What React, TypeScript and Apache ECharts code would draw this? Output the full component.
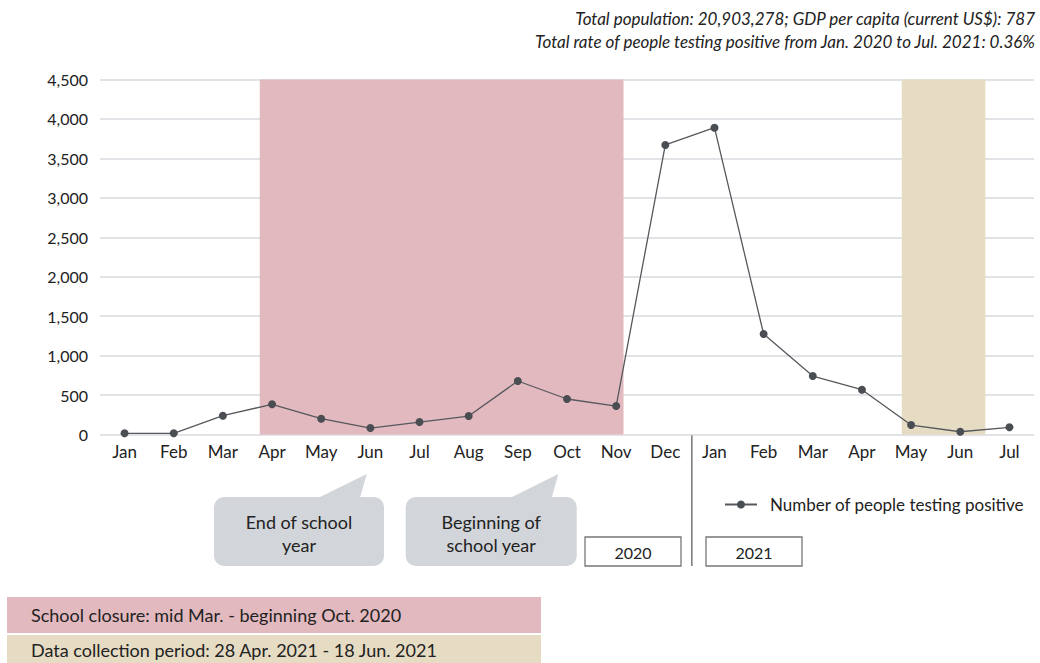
import React, { useEffect, useRef } from "react";
import * as echarts from "echarts";

const months = ["Jan","Feb","Mar","Apr","May","Jun","Jul","Aug","Sep","Oct","Nov","Dec","Jan","Feb","Mar","Apr","May","Jun","Jul"];
const positives = [15, 15, 238, 383, 200, 82, 158, 234, 678, 450, 361, 3670, 3889, 1274, 741, 568, 120, 35, 91];
const yTicks = [0, 500, 1000, 1500, 2000, 2500, 3000, 3500, 4000, 4500];
const closureSpan = [2.75, 10.15];
const collectionSpan = [15.81, 17.51];
const yearSplit = 11.54;
const seriesName = "Number of people testing positive";
const headerLines = [
  "Total population: 20,903,278; GDP per capita (current US$): 787",
  "Total rate of people testing positive from Jan. 2020 to Jul. 2021: 0.36%",
];

const FONT = "Lato, 'Noto Sans', sans-serif";
const PINK = "#e2b9be";
const BEIGE = "#e6dcc4";
const GRAYBOX = "#d2d5d9";
const TEXT = "#222222";

export default function App() {
  const ref = useRef<HTMLDivElement>(null);
  useEffect(() => {
    if (!ref.current) return;
    const chart = echarts.init(ref.current, undefined, { renderer: "svg" });
    const yMax = yTicks[yTicks.length - 1];
    chart.setOption({
      animation: false,
      textStyle: { fontFamily: FONT },
      grid: { left: 100, right: 6, top: 79.5, bottom: 228.5, containLabel: false },
      legend: {
        data: [seriesName],
        left: 719,
        top: 491,
        itemWidth: 32,
        itemHeight: 10,
        textStyle: { fontSize: 17, color: TEXT, fontFamily: FONT, padding: [0, 0, 0, 8] },
      },
      xAxis: [
        {
          type: "category",
          data: months,
          boundaryGap: true,
          axisLine: { show: false },
          axisTick: { show: false },
          axisLabel: { fontSize: 17, color: TEXT, fontFamily: FONT, margin: 8, interval: 0 },
        },
        {
          type: "value",
          min: -0.5,
          max: months.length - 0.5,
          show: false,
        },
      ],
      yAxis: {
        type: "value",
        min: 0,
        max: yMax,
        interval: 500,
        axisLine: { show: false },
        axisTick: { show: false },
        axisLabel: {
          fontSize: 16,
          color: TEXT,
          fontFamily: FONT,
          margin: 12,
          formatter: (v: number) => v.toLocaleString("en-US"),
        },
        splitLine: { lineStyle: { color: "#d8dade", width: 1.5 } },
      },
      series: [
        {
          name: "areas",
          type: "line",
          xAxisIndex: 1,
          yAxisIndex: 0,
          data: [],
          z: -1,
          silent: true,
          markArea: {
            silent: true,
            data: [
              [
                { xAxis: closureSpan[0], yAxis: yMax, itemStyle: { color: PINK, opacity: 1 } },
                { xAxis: closureSpan[1], yAxis: 0 },
              ],
              [
                { xAxis: collectionSpan[0], yAxis: yMax, itemStyle: { color: BEIGE, opacity: 1 } },
                { xAxis: collectionSpan[1], yAxis: 0 },
              ],
            ],
          },
        },
        {
          name: seriesName,
          type: "line",
          data: positives,
          symbol: "circle",
          symbolSize: 8,
          lineStyle: { color: "#55585d", width: 1.3 },
          itemStyle: { color: "#4a4d52" },
          z: 3,
        },
      ],
    });

    const sepX = chart.convertToPixel({ xAxisIndex: 1 }, yearSplit) as number;
    const baseY = chart.convertToPixel({ yAxisIndex: 0 }, 0) as number;

    const callout = (x: number, w: number, tip: number[], base: number[], lines: string[]) => ({
      type: "group",
      children: [
        {
          type: "polygon",
          shape: { points: [[base[0], 498], [tip[0], tip[1]], [base[1], 498]] },
          style: { fill: GRAYBOX },
        },
        {
          type: "rect",
          shape: { x, y: 497, width: w, height: 69, r: 10 },
          style: { fill: GRAYBOX },
        },
        {
          type: "text",
          x: x + w / 2,
          y: 533,
          style: {
            text: lines.join("\n"),
            fontSize: 18,
            lineHeight: 23,
            fill: TEXT,
            fontFamily: FONT,
            align: "center",
            verticalAlign: "middle",
          },
        },
      ],
    });

    const yearBox = (x: number, label: string) => ({
      type: "group",
      children: [
        {
          type: "rect",
          shape: { x, y: 537, width: 96, height: 29 },
          style: { fill: "#ffffff", stroke: "#777777", lineWidth: 1.3 },
        },
        {
          type: "text",
          x: x + 48,
          y: 552,
          style: { text: label, fontSize: 16, fill: TEXT, fontFamily: FONT, align: "center", verticalAlign: "middle" },
        },
      ],
    });

    const headerTexts = headerLines.map((line, i) => ({
      type: "text",
      x: 1035,
      y: 18 + i * 23,
      style: {
        text: line,
        fontSize: 17,
        fontStyle: "italic",
        fill: TEXT,
        fontFamily: FONT,
        align: "right",
        verticalAlign: "middle",
      },
    }));

    chart.setOption({
      graphic: [
        ...headerTexts,
        {
          type: "line",
          shape: { x1: sepX, y1: baseY + 1, x2: sepX, y2: 566 },
          style: { stroke: "#555555", lineWidth: 1.2 },
        },
        callout(214, 170, [366.7, 474], [318, 360], ["End of school", "year"]),
        callout(405.7, 171, [558.3, 474], [510, 551.7], ["Beginning of", "school year"]),
        yearBox(585, "2020"),
        yearBox(706, "2021"),
        {
          type: "rect",
          shape: { x: 7, y: 597, width: 534, height: 36 },
          style: { fill: PINK },
        },
        {
          type: "text",
          x: 31,
          y: 615,
          style: { text: "School closure: mid Mar. - beginning Oct. 2020", fontSize: 18, fill: TEXT, fontFamily: FONT, verticalAlign: "middle" },
        },
        {
          type: "rect",
          shape: { x: 7, y: 635, width: 534, height: 30 },
          style: { fill: BEIGE },
        },
        {
          type: "text",
          x: 31,
          y: 650,
          style: { text: "Data collection period: 28 Apr. 2021 - 18 Jun. 2021", fontSize: 18, fill: TEXT, fontFamily: FONT, verticalAlign: "middle" },
        },
      ],
    });

    return () => chart.dispose();
  }, []);

  return <div ref={ref} style={{ width: 1040, height: 663, position: "absolute", left: 0, top: 0 }} />;
}
